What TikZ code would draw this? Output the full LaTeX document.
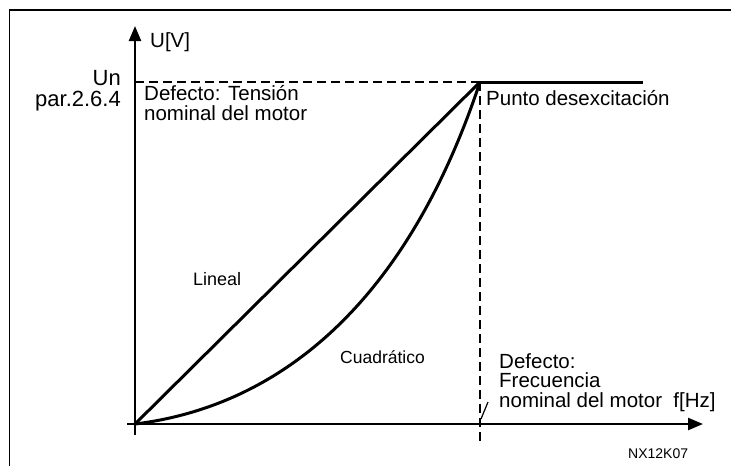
\documentclass[tikz,border=0pt]{standalone}
\usepackage{fontspec}
\setmainfont{Liberation Sans}
\usetikzlibrary{arrows.meta}
\begin{document}
\begin{tikzpicture}[x=1pt,y=-1pt,
  lbl/.style={inner sep=0pt,anchor=base west,font=\fontsize{20.5}{19.5}\selectfont,align=left},
  axis/.style={line width=2.4pt,-{Triangle[length=15pt,width=12pt]}},
  curve/.style={line width=3pt},
  dsh/.style={line width=1.6pt,dash pattern=on 9pt off 5pt}]
\useasboundingbox (0,0) rectangle (731,466);
% frame
\draw[line width=1.2pt] (9.5,466) -- (9.5,10) -- (731,10);
% coordinates
\coordinate (O) at (135,424);
\coordinate (K) at (480,82);
\coordinate (Y0) at (135,82);
\coordinate (Kend) at (643,82);
\coordinate (Kbot) at (480,443);
\coordinate (ytop) at (135,26);
\coordinate (ybot) at (135,435);
\coordinate (xl) at (127,424);
\coordinate (xr) at (703,424);
% axes
\draw[axis] (ybot) -- (ytop);
\draw[axis] (xl) -- (xr);
% dashed
\draw[dsh] (Y0) -- (K);
\draw[dsh] (K) -- (Kbot);
% curves
\draw[curve] (O) -- (K);
\draw[curve] (K) -- (Kend);
\draw[curve] (O) .. controls (273,407) and (404,311) .. (K);
% pointer slash
\coordinate (s1) at (481,419);
\coordinate (s2) at (488,402);
\draw[line width=1.2pt] (s1) -- (s2);
% labels
\node[lbl] (uv) at (150,47) {U[V]};
\node[lbl,anchor=base east,font=\fontsize{22}{20}\selectfont] (un) at (121,85) {Un};
\node[lbl,anchor=base east,font=\fontsize{22}{20}\selectfont] (par) at (121,106) {par.2.6.4};
\node[lbl] (def1) at (144,120) {Defecto: Tensión\\nominal del motor};
\node[lbl] (punto) at (486,105) {Punto desexcitación};
\node[lbl,font=\fontsize{18}{20}\selectfont] (lin) at (193,285) {Lineal};
\node[lbl,font=\fontsize{17.5}{20}\selectfont] (cuad) at (340,363) {Cuadrático};
\node[lbl] (def2) at (499,407) {Defecto:\\Frecuencia\\nominal del motor\ \ f[Hz]};
\node[lbl,font=\fontsize{14}{16}\selectfont] (nx) at (628,458) {NX12K07};
\end{tikzpicture}
\end{document}
